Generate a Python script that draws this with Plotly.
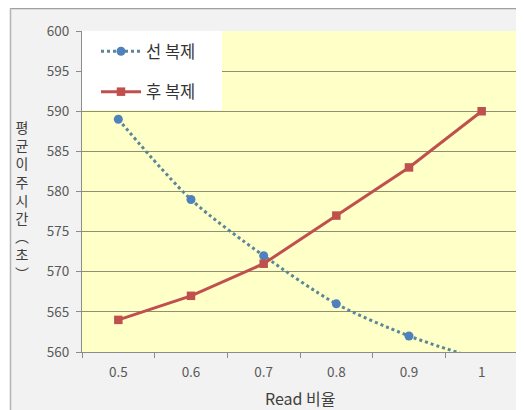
import plotly.graph_objects as go

categories = ["0.5", "0.6", "0.7", "0.8", "0.9", "1"]
pre_copy = [589, 579, 572, 566, 562, 559]      # 선 복제
post_copy = [564, 567, 571, 577, 583, 590]     # 후 복제
y_ticks = [560, 565, 570, 575, 580, 585, 590, 595, 600]
series_names = ["선 복제", "후 복제"]
x_title = "Read 비율"
y_title_chars = ["평", "균", "이", "주", "시", "간", "︵", "초", "︶"]

FONT = "Noto Sans CJK KR, Noto Sans, sans-serif"
OFF = 8  # page body margin
W, H = 524 - OFF, 410 - OFF
ML, MR, MT, MB = 82 - OFF, 6, 31 - OFF, 58
PW, PH = W - ML - MR, H - MT - MB

def px_x(p):
    return (p - OFF - ML) / PW

def px_y(p):
    return (H - MB - (p - OFF)) / PH

fig = go.Figure()
fig.add_trace(go.Scatter(
    x=categories, y=pre_copy, name=series_names[0], mode="lines+markers",
    line=dict(color="#5a8898", width=3, dash="dot", shape="spline", smoothing=0.8),
    marker=dict(symbol="circle", size=9, color="#4f81bd"),
    legendgroup="a",
))
fig.add_trace(go.Scatter(
    x=categories, y=post_copy, name=series_names[1], mode="lines+markers",
    line=dict(color="#c0504d", width=3),
    marker=dict(symbol="square", size=8.5, color="#c0504d"),
    legendgroup="b",
))

shapes = [
    # white outer strips
    dict(type="rect", xref="paper", yref="paper", x0=px_x(0), x1=px_x(530),
         y0=px_y(8), y1=px_y(0), fillcolor="white", line=dict(width=0), layer="below"),
    dict(type="rect", xref="paper", yref="paper", x0=px_x(0), x1=px_x(10),
         y0=px_y(415), y1=px_y(0), fillcolor="white", line=dict(width=0), layer="below"),
    # chart border
    dict(type="line", xref="paper", yref="paper", x0=px_x(10), x1=px_x(530),
         y0=px_y(8.5), y1=px_y(8.5), line=dict(color="#a0a0a0", width=1.5)),
    dict(type="line", xref="paper", yref="paper", x0=px_x(10.5), x1=px_x(10.5),
         y0=px_y(8), y1=px_y(415), line=dict(color="#b4b4b4", width=1.5)),
    # plot area right edge
    dict(type="line", xref="paper", yref="paper", x0=1, x1=1, y0=0, y1=1,
         line=dict(color="#c8c8c8", width=1)),
    # legend white box
    dict(type="rect", xref="paper", yref="paper", x0=0, x1=px_x(222),
         y0=px_y(110), y1=1, fillcolor="white", line=dict(width=0), layer="above"),
]

annotations = [
    dict(text="<br>".join(y_title_chars), xref="paper", yref="paper",
         x=px_x(22), y=px_y(200), xanchor="center", yanchor="middle",
         showarrow=False, font=dict(family=FONT, size=14, color="#404040")),
    dict(text=x_title, xref="paper", yref="paper", x=0.5, y=px_y(398),
         xanchor="center", yanchor="middle", showarrow=False,
         font=dict(family=FONT, size=16, color="#404040")),
]

fig.update_layout(
    width=W, height=H,
    margin=dict(l=ML, r=MR, t=MT, b=MB, pad=0),
    paper_bgcolor="#f2f2f2",
    plot_bgcolor="#ffffc8",
    font=dict(family=FONT, size=13, color="#595959"),
    showlegend=True,
    legend=dict(x=px_x(96), y=px_y(34), xanchor="left", yanchor="top",
                bgcolor="rgba(0,0,0,0)", borderwidth=0,
                font=dict(family=FONT, size=16.5, color="#333333"),
                itemwidth=40, tracegroupgap=16, traceorder="grouped"),
    shapes=shapes,
    annotations=annotations,
    xaxis=dict(type="category", categoryorder="array", categoryarray=categories,
               range=[-0.5, 5.5], tickson="boundaries", ticks="outside", ticklen=5,
               tickcolor="#8c8c8c", showline=True, linecolor="#8c8c8c", linewidth=1,
               showgrid=False, zeroline=False, ticklabelstandoff=8,
               tickfont=dict(family=FONT, size=13.5, color="#595959"), fixedrange=True),
    yaxis=dict(range=[560, 600], tickvals=y_ticks, ticks="outside", ticklen=5,
               tickcolor="#8c8c8c", showline=True, linecolor="#8c8c8c", linewidth=1,
               showgrid=True, gridcolor="#8f8f78", gridwidth=1, zeroline=False,
               ticklabelstandoff=4,
               tickfont=dict(family=FONT, size=13.5, color="#595959"), fixedrange=True),
)

fig.write_html("out.html")
